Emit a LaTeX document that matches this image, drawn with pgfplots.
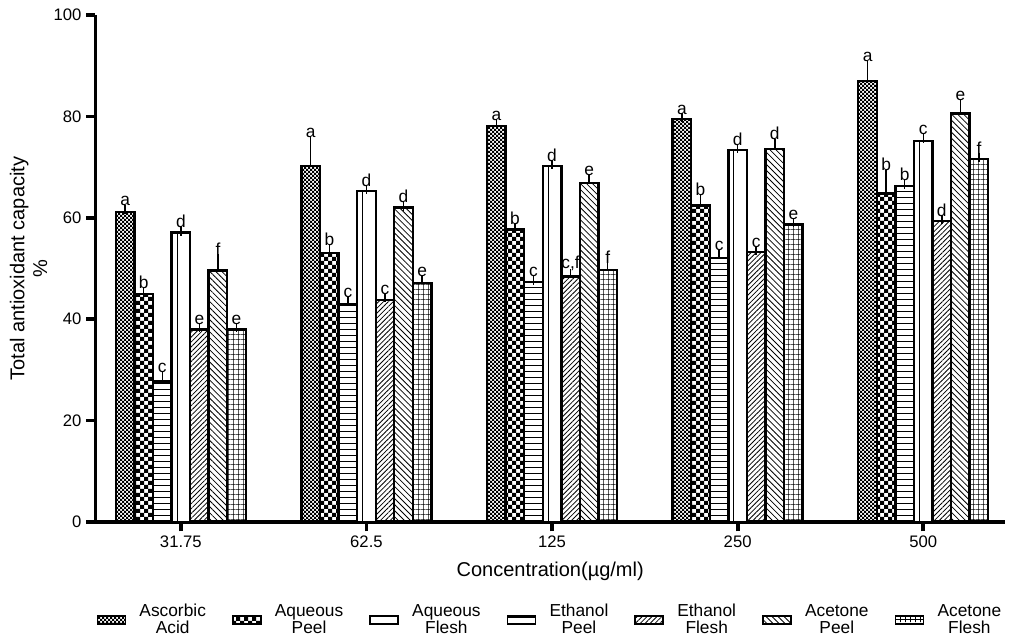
\documentclass[border=0pt]{standalone}
\usepackage{fontspec}
\setmainfont{Liberation Sans}
\usepackage{pgfplots}
\usepackage{pgfplotstable}
\pgfplotsset{compat=1.18}
\usetikzlibrary{patterns,patterns.meta}

% fine and coarse checkerboards
\pgfdeclarepatternformonly{finecheck}{\pgfpoint{-0.1pt}{-0.1pt}}{\pgfpoint{3.1pt}{3.1pt}}{\pgfpoint{3pt}{3pt}}{%
  \pgfpathrectangle{\pgfpointorigin}{\pgfpoint{1.5pt}{1.5pt}}%
  \pgfpathrectangle{\pgfpoint{1.5pt}{1.5pt}}{\pgfpoint{1.5pt}{1.5pt}}%
  \pgfusepath{fill}}
\pgfdeclarepatternformonly{coarsecheck}{\pgfpoint{-0.1pt}{-0.1pt}}{\pgfpoint{6.1pt}{6.1pt}}{\pgfpoint{6pt}{6pt}}{%
  \pgfpathrectangle{\pgfpointorigin}{\pgfpoint{3pt}{3pt}}%
  \pgfpathrectangle{\pgfpoint{3pt}{3pt}}{\pgfpoint{3pt}{3pt}}%
  \pgfusepath{fill}}

% columns: concentration index, mean, error (upper), significance letter
\pgfplotstableread{
x y e lab
0 61.2 0.5 a
1 70.2 5.0 a
2 78.1 0.4 a
3 79.5 0.3 a
4 87.0 3.1 a
}\tabAsc
\pgfplotstableread{
x y e lab
0 45.0 0.3 b
1 53.1 0.8 b
2 57.7 0.4 b
3 62.4 1.4 b
4 64.8 3.8 b
}\tabAqP
\pgfplotstableread{
x y e lab
0 57.1 0.3 d
1 65.3 0.3 d
2 70.2 0.3 d
3 73.4 0.2 d
4 75.2 0.5 c
}\tabAqF
\pgfplotstableread{
x y e lab
0 27.7 1.1 c
1 42.9 0.7 c
2 47.3 0.4 c
3 52.1 0.8 c
4 66.3 0.3 b
}\tabEtP
\pgfplotstableread{
x y e lab
0 38.0 0.3 e
1 43.8 0.4 c
2 48.4 0.6 c,f
3 53.2 0.3 c
4 59.4 0.2 d
}\tabEtF
\pgfplotstableread{
x y e lab
0 49.6 2.3 f
1 62.0 0.3 d
2 66.9 0.7 e
3 73.6 1.1 d
4 80.6 1.8 e
}\tabAcP
\pgfplotstableread{
x y e lab
0 38.0 0.3 e
1 47.1 0.7 e
2 49.7 0.7 f
3 58.7 0.3 e
4 71.6 0.3 f
}\tabAcF

\pgfplotsset{
  grp/.style={ybar, bar width=0.1, bar shift=0, draw=black, line width=1.8pt,
    error bars/.cd, y dir=plus, y explicit,
      error bar style={line width=1.1pt, black},
      error mark options={line width=1.1pt, mark size=3.4pt, black},
    /pgfplots/.cd,
    nodes near coords, point meta=explicit symbolic,
    visualization depends on={\thisrow{e} \as \ev},
    every node near coord/.append style={anchor=south, yshift=\ev*3.8025pt,
      font=\fontsize{13}{13}\selectfont, text=black, inner sep=1.5pt},
    legend image code/.code={\draw[##1, line width=1.2pt] (0pt,-3pt) rectangle (21pt,3pt);}
  }
}

\begin{document}
\begin{tikzpicture}
\begin{axis}[
  x=139.2pt, y=3.8025pt,
  xmin=-0.46, xmax=4.44, ymin=0, ymax=100,
  axis x line*=bottom, axis y line*=left,
  axis line style={line width=2.8pt},
  xtick={0,...,4}, xticklabels={31.75,62.5,125,250,500},
  ytick={0,20,...,100},
  tick align=outside, major tick length=7pt,
  tick style={line width=2.8pt, black},
  tick label style={font=\fontsize{12.5}{14}\selectfont},
  /pgf/number format/assume math mode=true,
  xlabel={Concentration(µg/ml)},
  ylabel={Total antioxidant capacity\\\%},
  label style={font=\fontsize{15}{17}\selectfont},
  xlabel style={yshift=-4pt},
  ylabel style={align=center, yshift=-2pt},
  legend columns=7,
  legend style={at={(0.5,-0.193)}, anchor=center, draw=none,
    font=\fontsize{13}{13}\selectfont, cells={align=center},
    /tikz/every odd column/.append style={column sep=8pt},
    /tikz/every even column/.append style={column sep=17.5pt}},
]
\addplot[grp, pattern=finecheck] table[x expr=\thisrow{x}-0.3, y=y, y error=e, meta=lab]{\tabAsc};
\addlegendentry{Ascorbic\\Acid}
\addplot[grp, pattern=coarsecheck] table[x expr=\thisrow{x}-0.2, y=y, y error=e, meta=lab]{\tabAqP};
\addlegendentry{Aqueous\\Peel}
\addplot[grp, fill=white] table[x=x, y=y, y error=e, meta=lab]{\tabAqF};
\addlegendentry{Aqueous\\Flesh}
\addplot[grp, pattern={Lines[angle=0, distance=4.5pt, line width=0.6pt]}] table[x expr=\thisrow{x}-0.1, y=y, y error=e, meta=lab]{\tabEtP};
\addlegendentry{Ethanol\\Peel}
\addplot[grp, pattern={Lines[angle=45, distance=2.6pt, line width=0.6pt]}] table[x expr=\thisrow{x}+0.1, y=y, y error=e, meta=lab]{\tabEtF};
\addlegendentry{Ethanol\\Flesh}
\addplot[grp, pattern={Lines[angle=-45, distance=3.2pt, line width=0.6pt]}] table[x expr=\thisrow{x}+0.2, y=y, y error=e, meta=lab]{\tabAcP};
\addlegendentry{Acetone\\Peel}
\addplot[grp, pattern={Hatch[angle=0, distance=4pt, line width=0.6pt]}] table[x expr=\thisrow{x}+0.3, y=y, y error=e, meta=lab]{\tabAcF};
\addlegendentry{Acetone\\Flesh}
% inner rule of the open bars
\addplot[ybar, bar width=0, bar shift=0, draw=black, line width=0.8pt, forget plot] table[x expr=\thisrow{x}-0.02, y=y]{\tabAqF};
\coordinate (O) at (rel axis cs:0,0);
\end{axis}
\pgfresetboundingbox
\path[use as bounding box] (O) ++(-71.6pt,-89.25pt) rectangle ++(764.25pt,480.75pt);
\end{tikzpicture}
\end{document}
